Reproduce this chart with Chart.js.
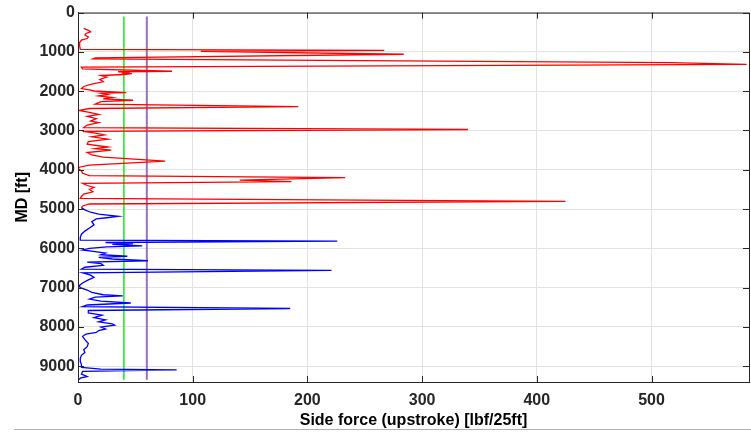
<!DOCTYPE html>
<html>
<head>
<meta charset="utf-8">
<script src="https://cdn.jsdelivr.net/npm/chart.js@4.4.1/dist/chart.umd.min.js"></script>
<style>
  body { margin: 0; background: #fff; }
  #wrap { position: relative; width: 751px; height: 433px; }
  #sep { position: absolute; left: 14px; right: 0; top: 429px; border-top: 1px solid #b0b0b0; }
</style>
</head>
<body>
<div id="wrap">
  <canvas id="chart" width="751" height="433"></canvas>
  <div id="sep"></div>
</div>
<script>
// depth (ft) and side force (lbf/25ft)
var redMD = [400, 450, 490, 530, 570, 620, 660, 700, 780, 860,
  935, 962, 988, 1060, 1150, 1175, 1275, 1315, 1385, 1430,
  1492, 1505, 1520, 1540, 1555, 1575, 1600, 1640, 1700, 1760,
  1820, 1880, 1935, 1965, 1995, 2035, 2050, 2085, 2120, 2160,
  2195, 2230, 2265, 2330, 2395, 2440, 2490, 2540, 2590, 2640,
  2700, 2760, 2800, 2860, 2925, 2975, 3020, 3060, 3110, 3160,
  3220, 3280, 3350, 3420, 3460, 3500, 3560, 3620, 3680, 3780,
  3880, 3935, 3980, 4030, 4090, 4150, 4200, 4265, 4300, 4345,
  4400, 4450, 4500, 4560, 4620, 4680, 4730, 4805, 4870, 4920,
  4970];
var redForce = [5, 9, 11, 7, 6, 9, 8, 3, 1, 1.5,
  2, 267, 107, 284, 15, 13, 517, 583, 3, 4,
  82, 35, 45, 38, 47, 40, 20, 25, 19, 22,
  12, 5, 3, 10, 14, 42, 20, 26, 18, 30,
  22, 48, 20, 15, 192, 10, 1, 10, 18, 8,
  16, 11, 18, 8, 5, 340, 4, 14, 23, 12,
  26, 9, 8, 26, 15, 29, 8, 12, 22, 76,
  10, 1, 0.5, 3, 4, 10, 233, 141, 186, 4,
  8, 14, 10, 13, 5, 3, 2, 425, 10, 4,
  3];

var blueMD = [4970, 5020, 5080, 5130, 5185, 5220, 5250, 5320, 5400, 5480,
  5560, 5640, 5720, 5790, 5815, 5850, 5880, 5900, 5935, 5960,
  6000, 6040, 6080, 6120, 6160, 6200, 6230, 6270, 6315, 6350,
  6390, 6430, 6480, 6530, 6560, 6620, 6680, 6740, 6800, 6880,
  6950, 7000, 7060, 7120, 7180, 7210, 7240, 7290, 7340, 7390,
  7440, 7480, 7530, 7580, 7640, 7700, 7760, 7820, 7870, 7920,
  7955, 8000, 8050, 8090, 8140, 8180, 8240, 8320, 8420, 8500,
  8580, 8650, 8720, 8800, 8880, 8950, 9030, 9070, 9090, 9130,
  9200, 9260, 9300, 9340];
var blueForce = [3, 6, 11, 18, 35, 25, 16, 12, 14, 10,
  6, 3, 2, 2, 226, 24, 48, 30, 56, 25,
  10, 4, 15, 24, 20, 43, 18, 30, 61, 8,
  20, 22, 6, 3, 221, 4, 11, 14, 9, 4,
  1, 2, 8, 12, 22, 39, 15, 10, 20, 46,
  8, 4, 185, 9, 9, 21, 14, 24, 18, 30,
  32, 20, 24, 18, 16, 7, 4, 6, 9, 8,
  5, 6, 3, 2, 2, 3, 3, 20, 86, 4,
  3, 8, 2, 1];

// limit lines
var limitMD = [100, 9340];
var greenForce = [40, 40];
var purpleForce = [60, 60];

var xTicks = [0, 100, 200, 300, 400, 500];
var yTicks = [0, 1000, 2000, 3000, 4000, 5000, 6000, 7000, 8000, 9000];

function toPoints(md, f) {
  var pts = [];
  for (var i = 0; i < md.length; i++) pts.push({ x: f[i], y: md[i] });
  return pts;
}

var axisColor = '#262626';
var fontFam = '"Liberation Sans", Arial, Helvetica, sans-serif';

// matlab style frame with inward ticks
var axisBox = {
  id: 'axisBox',
  afterDatasetsDraw: function (chart) {
    var ctx = chart.ctx, a = chart.chartArea;
    var x = chart.scales.x, y = chart.scales.y;
    ctx.save();
    ctx.strokeStyle = axisColor;
    ctx.lineWidth = 1;
    ctx.strokeRect(a.left + 0.5, a.top + 0.5, a.right - a.left, a.bottom - a.top);
    ctx.beginPath();
    xTicks.forEach(function (v) {
      var px = Math.round(x.getPixelForValue(v)) + 0.5;
      ctx.moveTo(px, a.bottom); ctx.lineTo(px, a.bottom - 6);
      ctx.moveTo(px, a.top); ctx.lineTo(px, a.top + 6);
    });
    yTicks.forEach(function (v) {
      var py = Math.round(y.getPixelForValue(v)) + 0.5;
      ctx.moveTo(a.left, py); ctx.lineTo(a.left + 6, py);
      ctx.moveTo(a.right, py); ctx.lineTo(a.right - 6, py);
    });
    ctx.stroke();
    ctx.restore();
  }
};

function line(data, color, width) {
  return {
    data: data,
    showLine: true,
    borderColor: color,
    borderWidth: width,
    pointRadius: 0,
    fill: false,
    tension: 0
  };
}

function plain(v) { return String(v); }

new Chart(document.getElementById('chart'), {
  type: 'scatter',
  data: {
    datasets: [
      line(toPoints(redMD, redForce), '#ff0000', 1.3),
      line(toPoints(blueMD, blueForce), '#0000ff', 1.3),
      line(toPoints(limitMD, greenForce), '#22ee22', 1.6),
      line(toPoints(limitMD, purpleForce), '#9c6fb6', 2)
    ]
  },
  options: {
    responsive: false,
    animation: false,
    devicePixelRatio: 1,
    layout: { padding: { top: 12, right: 2, left: 0, bottom: 0 } },
    plugins: { legend: { display: false }, tooltip: { enabled: false } },
    scales: {
      x: {
        type: 'linear',
        min: 0,
        max: 585,
        afterBuildTicks: function (s) { s.ticks = xTicks.map(function (v) { return { value: v }; }); },
        afterFit: function (s) { s.height = 51; },
        grid: { color: '#e2e2e2', drawTicks: false },
        border: { color: axisColor },
        ticks: { padding: 9, color: axisColor, callback: plain, font: { family: fontFam, size: 16, weight: 'bold' } },
        title: {
          display: true,
          text: 'Side force (upstroke) [lbf/25ft]',
          color: '#000',
          padding: { top: 0, bottom: 3 },
          font: { family: fontFam, size: 16, weight: 'bold' }
        }
      },
      y: {
        type: 'linear',
        reverse: true,
        min: 0,
        max: 9400,
        afterBuildTicks: function (s) { s.ticks = yTicks.map(function (v) { return { value: v }; }); },
        afterFit: function (s) { s.width = 78; },
        grid: { color: '#e2e2e2', drawTicks: false },
        border: { color: axisColor },
        ticks: { padding: 3, color: axisColor, callback: plain, font: { family: fontFam, size: 16, weight: 'bold' } },
        title: {
          display: true,
          text: 'MD [ft]',
          color: '#000',
          padding: { top: 13, bottom: 0 },
          font: { family: fontFam, size: 16, weight: 'bold' }
        }
      }
    }
  },
  plugins: [axisBox]
});
</script>
</body>
</html>
